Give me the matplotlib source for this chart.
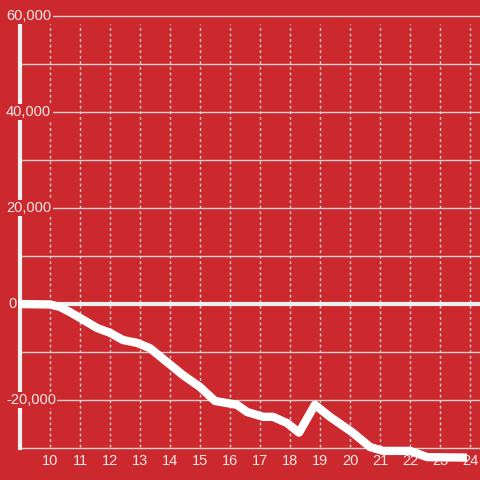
import matplotlib
matplotlib.use("Agg")
import matplotlib.pyplot as plt
from matplotlib.transforms import blended_transform_factory

# data
hours = [8.9, 10.0, 10.33, 10.67, 11.0, 11.57, 12.0, 12.43, 12.9, 13.33, 13.9, 14.43,
         15.0, 15.5, 16.23, 16.57, 17.1, 17.43, 17.9, 18.3, 18.83, 19.33, 20.07,
         20.67, 21.1, 22.0, 22.57, 23.9]
values = [0, -100, -600, -1700, -2900, -5000, -6000, -7500, -8100, -9200, -12100, -14800,
          -17300, -20200, -21000, -22500, -23500, -23500, -24800, -26800, -21000, -23500,
          -26700, -29800, -30600, -30600, -31900, -32000]
x_ticks = list(range(10, 25))
y_ticks = list(range(-30000, 60001, 10000))
y_labeled = [-20000, 0, 20000, 40000, 60000]

BG = "#cc292e"
TXT = "#f7e8e8"
GRID = "#d6d0d0"

fig = plt.figure(figsize=(4.8, 4.8), dpi=100)
fig.patch.set_facecolor(BG)
ax = fig.add_axes([20/480, 32/480, 460/480, 432/480])
ax.set_facecolor(BG)
ax.set_xlim(9.0, 24.333)
ax.set_ylim(-30000, 60000)

for s in ["top", "right", "bottom"]:
    ax.spines[s].set_visible(False)
ax.spines["left"].set_color("#f4f0f0")
ax.spines["left"].set_linewidth(3)
ax.spines["left"].set_bounds(-30000, 58333)
ax.spines["left"].set_zorder(3)

# horizontal grid
for v in y_ticks:
    if v == 0:
        continue
    ax.axhline(v, color=GRID, lw=1, zorder=1, clip_on=False)
ax.axhline(0, color="#f4f0f0", lw=3, zorder=2)

# vertical dotted grid
for xv in x_ticks:
    ax.plot([xv, xv], [-29700, 58333], color=GRID, lw=1, ls=(0, (2, 2)), zorder=1)

ax.set_xticks(x_ticks)
ax.set_xticklabels([str(t) for t in x_ticks], color=TXT, fontsize=10.5, family="Liberation Sans")
ax.tick_params(axis="x", length=0, pad=4.5)
ax.set_yticks([])

tr = blended_transform_factory(fig.transFigure, ax.transData)
for v in y_labeled:
    ax.text(6/480 if v != 0 else 8/480, v, f"{v:,}", transform=tr, ha="left", va="center",
            color=TXT, fontsize=10.5, family="Liberation Sans", zorder=5,
            bbox=dict(facecolor=BG, edgecolor="none", pad=1.0))

ax.plot(hours, values, color="white", lw=6, solid_joinstyle="round",
        solid_capstyle="butt", zorder=4, clip_on=False)

fig.savefig("out.png", dpi=100, facecolor=BG)
